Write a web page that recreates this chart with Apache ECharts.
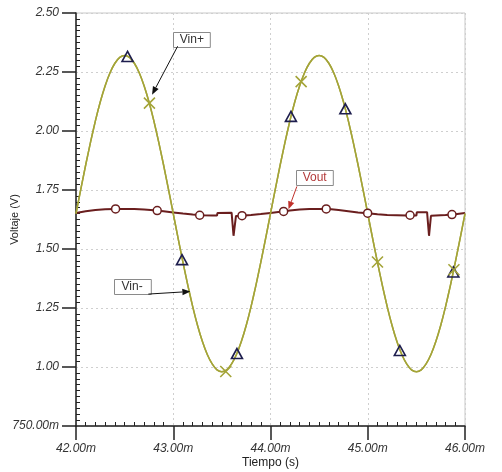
<!DOCTYPE html>
<html><head><meta charset="utf-8">
<script src="https://cdn.jsdelivr.net/npm/echarts@6/dist/echarts.min.js"></script>
<style>html,body{margin:0;padding:0;background:#fff}#c{width:502px;height:472px}</style>
</head><body><div id="c"></div>
<script>
// ---- data (time in ms, voltage in V) ----
const vinTime = [42.00,42.05,42.10,42.15,42.20,42.25,42.30,42.35,42.40,42.45,42.50,42.55,42.60,42.65,42.70,42.75,42.80,42.85,42.90,42.95,
  43.00,43.05,43.10,43.15,43.20,43.25,43.30,43.35,43.40,43.45,43.50,43.55,43.60,43.65,43.70,43.75,43.80,43.85,43.90,43.95,
  44.00,44.05,44.10,44.15,44.20,44.25,44.30,44.35,44.40,44.45,44.50,44.55,44.60,44.65,44.70,44.75,44.80,44.85,44.90,44.95,
  45.00,45.05,45.10,45.15,45.20,45.25,45.30,45.35,45.40,45.45,45.50,45.55,45.60,45.65,45.70,45.75,45.80,45.85,45.90,45.95,46.00];
const vinValues = [1.650,1.755,1.857,1.954,2.044,2.124,2.192,2.247,2.287,2.312,2.320,2.312,2.287,2.247,2.192,2.124,2.044,1.954,1.857,1.755,
  1.650,1.545,1.443,1.346,1.256,1.176,1.108,1.053,1.013,0.988,0.980,0.988,1.013,1.053,1.108,1.176,1.256,1.346,1.443,1.545,
  1.650,1.755,1.857,1.954,2.044,2.124,2.192,2.247,2.287,2.312,2.320,2.312,2.287,2.247,2.192,2.124,2.044,1.954,1.857,1.755,
  1.650,1.545,1.443,1.346,1.256,1.176,1.108,1.053,1.013,0.988,0.980,0.988,1.013,1.053,1.108,1.176,1.256,1.346,1.443,1.545,1.650];

const voutTime = [42.00,42.10,42.20,42.30,42.40,42.50,42.60,42.70,42.80,42.90,43.00,43.10,43.20,43.30,43.40,43.45,43.455,43.60,43.62,43.645,
  43.70,43.80,43.90,44.00,44.10,44.20,44.30,44.40,44.50,44.60,44.70,44.80,44.90,45.00,45.10,45.20,45.30,45.40,45.50,45.505,
  45.61,45.63,45.65,45.70,45.80,45.90,46.00];
const voutValues = [1.653,1.660,1.665,1.668,1.670,1.670,1.669,1.667,1.664,1.660,1.655,1.650,1.646,1.643,1.642,1.642,1.653,1.654,1.556,1.640,
  1.641,1.644,1.648,1.653,1.658,1.663,1.667,1.669,1.670,1.669,1.665,1.660,1.655,1.651,1.647,1.644,1.643,1.642,1.642,1.656,
  1.656,1.556,1.641,1.642,1.644,1.647,1.653];

// marker samples
const triTime = [42.53,43.09,43.655,44.21,44.77,45.33,45.88];
const triValues = [2.316,1.455,1.057,2.062,2.094,1.070,1.403];
const crossTime = [42.755,43.54,44.315,45.10,45.886];
const crossValues = [2.118,0.981,2.209,1.445,1.412];
const circTime = [42.407,42.835,43.272,43.707,44.135,44.573,44.999,45.435,45.866];
const circValues = [1.670,1.663,1.643,1.641,1.659,1.670,1.652,1.643,1.646];

const xTicks = [42,43,44,45,46];
const yTicks = [0.75,1.00,1.25,1.50,1.75,2.00,2.25,2.50];

// annotations: label, box centre, arrow start, arrow tip (all in data coords)
const annLabels = ['Vin+','Vout','Vin-'];
const annBox = [[43.191,2.389],[44.454,1.802],[42.577,1.342]];
const annFrom = [[43.045,2.359],[44.271,1.765],[42.744,1.309]];
const annTip = [[42.782,2.154],[44.185,1.668],[43.176,1.320]];

const zip = (a,b)=>a.map((v,i)=>[v,b[i]]);

const OLIVE = '#a4a438';
const MAROON = '#6a1e1e';
const NAVY = '#1e1e4e';
const FONT = 'Liberation Sans, Arial, sans-serif';

const GRID = {left:76,right:37,top:13,bottom:46};
const W = 502, H = 472;
const gridW = W - GRID.left - GRID.right;
const gridH = H - GRID.top - GRID.bottom;

const chart = echarts.init(document.getElementById('c'), null, {renderer:'canvas'});

const fmtX = v => v.toFixed(2)+'m';
const fmtY = v => v < 1 ? (v*1000).toFixed(2)+'m' : v.toFixed(2);

const option = {
  animation:false,
  backgroundColor:'#fff',
  grid:{left:GRID.left,right:GRID.right,top:GRID.top,bottom:GRID.bottom,containLabel:false,outerBoundsMode:'none',
        show:true,borderColor:'#c8c8c8',borderWidth:1},
  xAxis:[{
    type:'value',min:xTicks[0],max:xTicks[xTicks.length-1],interval:1,
    axisLine:{show:true,onZero:false,lineStyle:{color:'#222',width:1.5}},
    axisTick:{show:true,length:14,lineStyle:{color:'#222',width:1.5}},
    axisLabel:{formatter:fmtX,color:'#333',fontStyle:'italic',fontSize:12,margin:17,fontFamily:FONT},
    splitLine:{show:true,lineStyle:{type:[2,3],color:'#cfcfcf',width:1}},
    name:'Tiempo (s)',nameLocation:'middle',nameGap:31,nameMoveOverlap:false,
    nameTextStyle:{color:'#222',fontSize:12,fontFamily:FONT}
  },{
    // minor ticks pointing into the plot: a 'top' axis shifted down onto the bottom edge
    type:'value',min:xTicks[0],max:xTicks[xTicks.length-1],interval:1,position:'top',offset:-gridH,
    axisLine:{show:false,onZero:false},axisTick:{show:false},
    minorTick:{show:true,splitNumber:10,length:4,lineStyle:{color:'#222',width:1}},
    axisLabel:{show:false},splitLine:{show:false}
  }],
  yAxis:[{
    type:'value',min:yTicks[0],max:yTicks[yTicks.length-1],interval:0.25,
    axisLine:{show:true,onZero:false,lineStyle:{color:'#222',width:1.5}},
    axisTick:{show:true,length:14,lineStyle:{color:'#222',width:1.5}},
    axisLabel:{formatter:fmtY,color:'#333',fontStyle:'italic',fontSize:12,margin:17,fontFamily:FONT},
    splitLine:{show:true,lineStyle:{type:[2,3],color:'#cfcfcf',width:1}},
    name:'Voltaje (V)',nameLocation:'middle',nameGap:56,nameMoveOverlap:false,
    nameTextStyle:{color:'#222',fontSize:11,fontFamily:FONT}
  },{
    // minor ticks pointing into the plot: a 'right' axis shifted onto the left edge
    type:'value',min:yTicks[0],max:yTicks[yTicks.length-1],interval:0.25,position:'right',offset:-gridW,
    axisLine:{show:false,onZero:false},axisTick:{show:false},
    minorTick:{show:true,splitNumber:10,length:4,lineStyle:{color:'#222',width:1}},
    axisLabel:{show:false},splitLine:{show:false}
  }],
  series:[
    {name:'Vout',type:'line',data:zip(voutTime,voutValues),showSymbol:false,symbol:'none',
     lineStyle:{color:MAROON,width:2},z:2},
    {name:'Vin+',type:'line',data:zip(vinTime,vinValues),showSymbol:false,symbol:'none',smooth:0.2,
     lineStyle:{color:OLIVE,width:1.5},z:3},
    {name:'Vin-',type:'line',data:zip(vinTime,vinValues),showSymbol:false,symbol:'none',smooth:0.2,
     lineStyle:{color:OLIVE,width:1.5},z:3},
    {name:'VoutMarks',type:'scatter',data:zip(circTime,circValues),symbol:'circle',symbolSize:8,
     itemStyle:{color:'#fff',borderColor:MAROON,borderWidth:1.5,opacity:1},z:4},
    {name:'TriMarks',type:'scatter',data:zip(triTime,triValues),symbol:'triangle',symbolSize:[11,10],
     itemStyle:{color:'rgba(255,255,255,0)',borderColor:NAVY,borderWidth:1.6,opacity:1},z:5},
    {name:'CrossMarks',type:'scatter',data:zip(crossTime,crossValues),
     symbol:'path://M0,0L10,10M10,0L0,10',symbolSize:11,
     itemStyle:{color:'none',borderColor:OLIVE,borderWidth:1.6,opacity:1},z:5}
  ]
};
chart.setOption(option);

// annotation boxes and arrows, placed from data coordinates
const graphics = [];
const annTextColor = ['#333','#b33a3a','#333'];
const annArrowColor = ['#111','#c0302a','#111'];
annLabels.forEach((lab,i)=>{
  const c = chart.convertToPixel({xAxisIndex:0,yAxisIndex:0}, annBox[i]);
  const f = chart.convertToPixel({xAxisIndex:0,yAxisIndex:0}, annFrom[i]);
  const t = chart.convertToPixel({xAxisIndex:0,yAxisIndex:0}, annTip[i]);
  const tw = lab.length*7.2 + 2;
  const bw = tw + 6, bh = 15;
  graphics.push({type:'rect',shape:{x:Math.round(c[0]-bw/2)+0.5,y:Math.round(c[1]-bh/2)+0.5,width:bw,height:bh},
    style:{fill:'#fff',stroke:'#8a8a8a',lineWidth:1},z:100});
  graphics.push({type:'text',x:c[0],y:c[1],style:{text:lab,fill:annTextColor[i],font:'12px '+FONT,align:'center',verticalAlign:'middle'},z:101});
  const dx=t[0]-f[0], dy=t[1]-f[1], L=Math.hypot(dx,dy), ux=dx/L, uy=dy/L;
  const hl=8, hw=3.2;
  const bx=t[0]-ux*hl, by=t[1]-uy*hl;
  graphics.push({type:'line',shape:{x1:f[0],y1:f[1],x2:bx,y2:by},style:{stroke:annArrowColor[i],lineWidth:1},z:100});
  graphics.push({type:'polygon',shape:{points:[[t[0],t[1]],[bx-uy*hw,by+ux*hw],[bx+uy*hw,by-ux*hw]]},
    style:{fill:annArrowColor[i]},z:100});
});
chart.setOption({graphic:graphics});
</script>
</body></html>
